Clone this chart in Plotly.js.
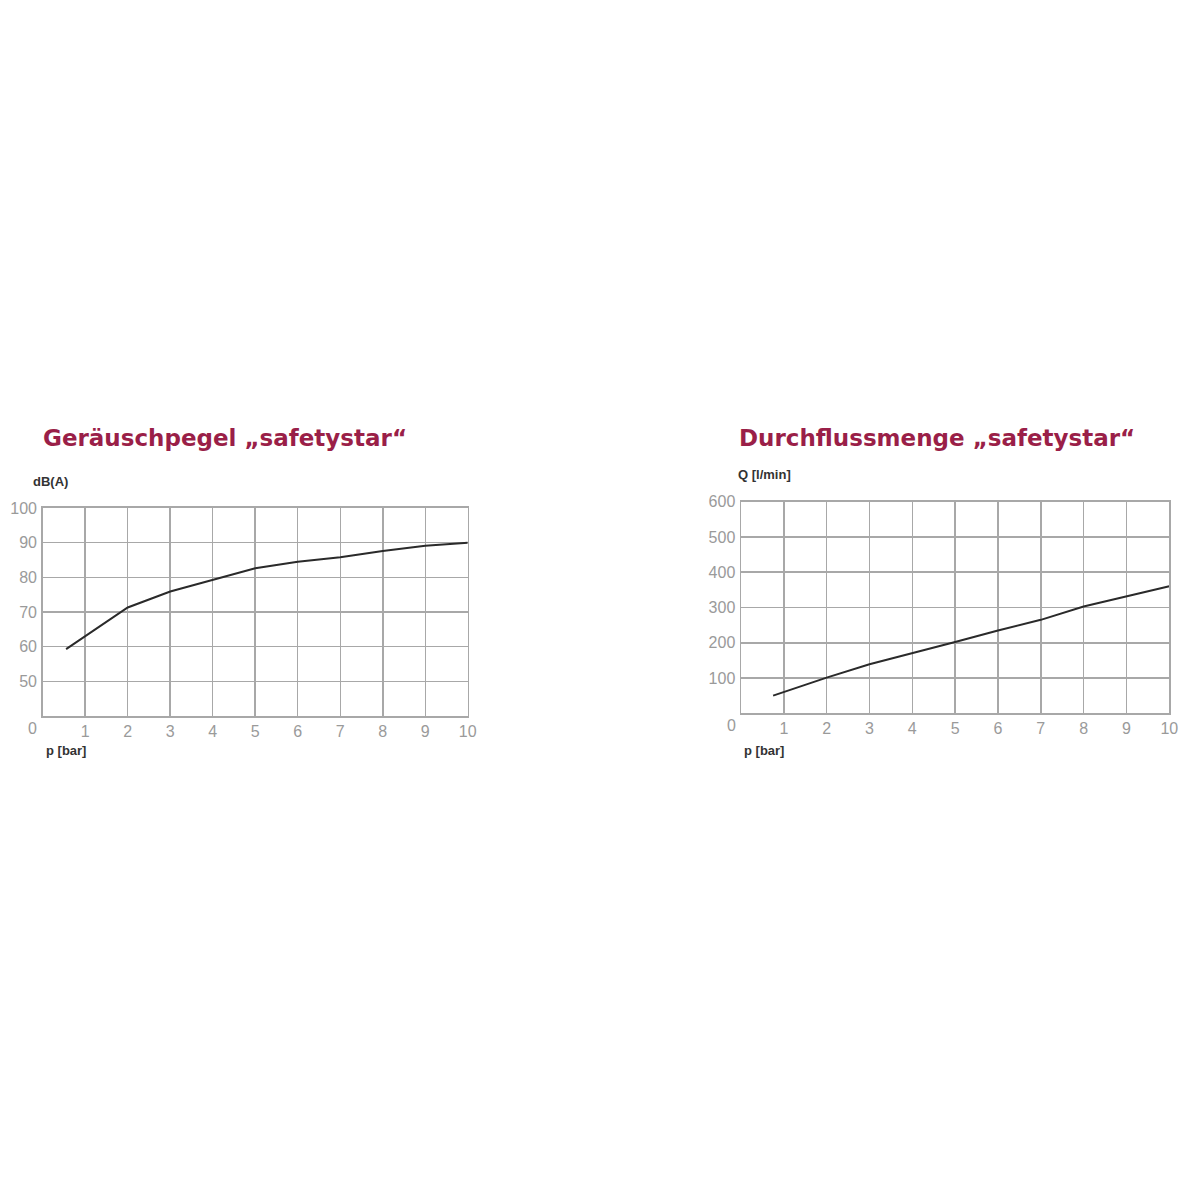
<!DOCTYPE html>
<html>
<head>
<meta charset="utf-8">
<script src="https://cdn.plot.ly/plotly-3.0.1.min.js"></script>
<style>
  html, body { margin: 0; padding: 0; background: #ffffff; }
  #chart { width: 1200px; height: 1200px; }
</style>
</head>
<body>
<div id="chart"></div>
<script>
// ------------------------------------------------------------------------------
// DATA

// Geräuschpegel (noise level)
const noise_p   = [0.55, 2, 3, 4, 5, 6, 7, 8, 9, 10];
const noise_dba = [59.3, 71.3, 75.9, 79.2, 82.6, 84.5, 85.8, 87.6, 89.1, 90.0];

// Durchflussmenge (flow rate)
const flow_p = [0.75, 2, 3, 4, 5, 6, 7, 8, 9, 10];
const flow_q = [50, 101, 139, 170, 202, 235, 265, 303, 331, 360];

const p_ticks     = [1, 2, 3, 4, 5, 6, 7, 8, 9, 10];
const noise_ticks = [50, 60, 70, 80, 90, 100];
const flow_ticks  = [100, 200, 300, 400, 500, 600];

// ------------------------------------------------------------------------------
// STYLE

const title_color = '#9a1f48';
const tick_color  = '#9a9a9a';
const grid_color  = '#a8a8a8';
const tick_font   = { family: 'Liberation Sans, Arial, sans-serif', size: 16, color: tick_color };
const label_font  = { family: 'Liberation Sans, Arial, sans-serif', size: 13, color: '#333333', weight: 'bold' };
const title_font  = { family: 'DejaVu Sans, sans-serif', size: 23, color: title_color, weight: 'bold' };

function xaxisFor(domain) {
    return {
        domain: domain,
        range: [0, 10],
        tickvals: p_ticks,
        ticktext: p_ticks.map(String),
        tickfont: tick_font,
        ticks: '',
        ticklabelstandoff: 0,
        showgrid: true,
        gridcolor: grid_color,
        gridwidth: 1.5,
        zeroline: false,
        showline: true,
        mirror: true,
        linecolor: grid_color,
        linewidth: 1.5,
        fixedrange: true
    };
}

function yaxisFor(domain, range, ticks) {
    return {
        domain: domain,
        range: range,
        tickvals: ticks,
        ticktext: ticks.map(String),
        tickfont: tick_font,
        ticks: '',
        ticklabelstandoff: 1,
        showgrid: true,
        gridcolor: grid_color,
        gridwidth: 1.5,
        zeroline: false,
        showline: true,
        mirror: true,
        linecolor: grid_color,
        linewidth: 1.5,
        fixedrange: true
    };
}

const traces = [
    {
        x: noise_p,
        y: noise_dba,
        mode: 'lines',
        type: 'scatter',
        line: { color: '#2a2a2a', width: 2 },
        xaxis: 'x',
        yaxis: 'y',
        hoverinfo: 'none',
        showlegend: false
    },
    {
        x: flow_p,
        y: flow_q,
        mode: 'lines',
        type: 'scatter',
        line: { color: '#2a2a2a', width: 2 },
        xaxis: 'x2',
        yaxis: 'y2',
        hoverinfo: 'none',
        showlegend: false
    }
];

const layout = {
    width: 1200,
    height: 1200,
    paper_bgcolor: '#ffffff',
    plot_bgcolor: '#ffffff',
    margin: { l: 0, r: 0, t: 0, b: 0 },
    showlegend: false,
    xaxis:  xaxisFor([0.0356, 0.3898]),
    yaxis:  yaxisFor([0.4033, 0.5767], [40, 100], noise_ticks),
    xaxis2: Object.assign(xaxisFor([0.6175, 0.9744]), { anchor: 'y2' }),
    yaxis2: Object.assign(yaxisFor([0.4056, 0.5819], [0, 600], flow_ticks), { anchor: 'x2' }),
    annotations: [
        // titles
        { text: 'Geräuschpegel „safetystar“', xref: 'paper', yref: 'paper',
          x: 0.034, y: 1 - 438 / 1200, xanchor: 'left', yanchor: 'middle',
          showarrow: false, font: title_font },
        { text: 'Durchflussmenge „safetystar“', xref: 'paper', yref: 'paper',
          x: 0.614, y: 1 - 438 / 1200, xanchor: 'left', yanchor: 'middle',
          showarrow: false, font: title_font },
        // axis unit labels
        { text: 'dB(A)', xref: 'paper', yref: 'paper',
          x: 31 / 1200, y: 1 - 482 / 1200, xanchor: 'left', yanchor: 'middle',
          showarrow: false, font: label_font },
        { text: 'Q [l/min]', xref: 'paper', yref: 'paper',
          x: 736 / 1200, y: 1 - 475 / 1200, xanchor: 'left', yanchor: 'middle',
          showarrow: false, font: label_font },
        { text: 'p [bar]', xref: 'paper', yref: 'paper',
          x: 44 / 1200, y: 1 - 750 / 1200, xanchor: 'left', yanchor: 'middle',
          showarrow: false, font: label_font },
        { text: 'p [bar]', xref: 'paper', yref: 'paper',
          x: 742 / 1200, y: 1 - 750 / 1200, xanchor: 'left', yanchor: 'middle',
          showarrow: false, font: label_font },
        // origin labels
        { text: '0', xref: 'paper', yref: 'paper',
          x: 32 / 1200, y: 1 - 728 / 1200, xanchor: 'center', yanchor: 'middle',
          showarrow: false, font: tick_font },
        { text: '0', xref: 'paper', yref: 'paper',
          x: 731 / 1200, y: 1 - 725 / 1200, xanchor: 'center', yanchor: 'middle',
          showarrow: false, font: tick_font }
    ]
};

Plotly.newPlot('chart', traces, layout, { displayModeBar: false, staticPlot: true });
</script>
</body>
</html>
